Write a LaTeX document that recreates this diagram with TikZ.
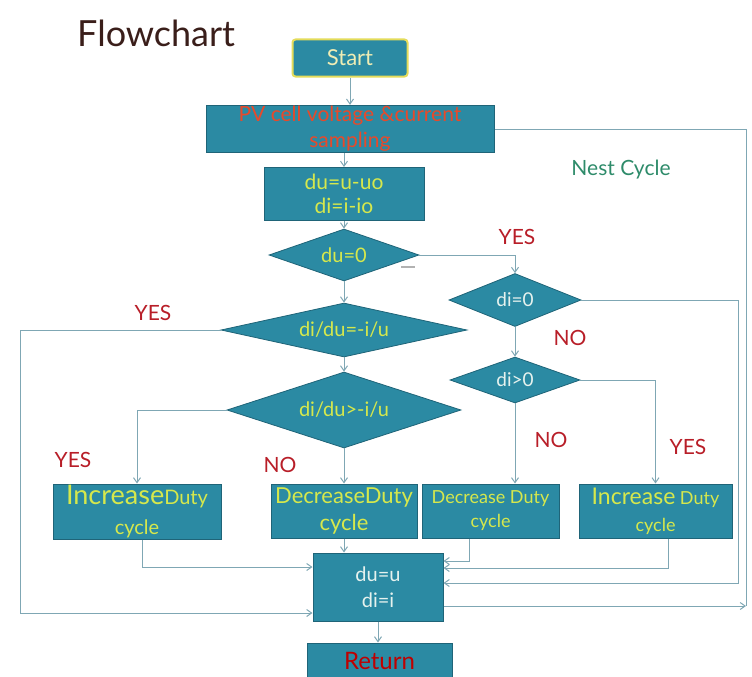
\documentclass[tikz,border=0pt]{standalone}
\usepackage{fontspec}
\setmainfont{Lato}
\usetikzlibrary{shapes.geometric,arrows.meta}
\definecolor{boxfill}{HTML}{2B8AA3}
\definecolor{boxline}{HTML}{1F6478}
\definecolor{txtyel}{HTML}{D6E84C}
\definecolor{txtlight}{HTML}{E6F2EE}
\definecolor{txtstart}{HTML}{F0EDB4}
\definecolor{lblred}{HTML}{B81E28}
\definecolor{pvred}{HTML}{E8492A}
\definecolor{wire}{HTML}{7FA7B4}
\definecolor{titlebrown}{HTML}{3A1E1A}
\definecolor{nestgreen}{HTML}{2E8B6A}
\definecolor{startedge}{HTML}{E4DC5A}
\newcommand{\fsz}[2]{\fontsize{#1}{#2}\selectfont}
\tikzset{
  box/.style={rectangle, fill=boxfill, draw=boxline, line width=1pt, inner sep=1pt, align=center, text=txtyel, font=\fsz{21}{24}},
  dia/.style={diamond, fill=boxfill, draw=boxline, line width=0.8pt, inner sep=0pt, align=center, text=txtyel, font=\fsz{20}{24}},
  lbl/.style={text=lblred, font=\fsz{21}{24}},
  wireline/.style={draw=wire, line width=1pt},
  arr/.style={wireline, -{Straight Barb[length=5pt,width=7pt]}},
}
\begin{document}
\begin{tikzpicture}[x=1pt,y=-1pt]
\useasboundingbox (0,0) rectangle (752,677);
% title
\node[anchor=west, text=titlebrown, font=\fsz{36}{40}, inner sep=0pt] (title) at (77,33) {Flowchart};
% boxes
\node[box, rounded corners=3pt, draw=startedge, line width=2pt, minimum width=115pt, minimum height=37pt, text=txtstart, font=\fsz{22}{24}] (start) at (350,58) {Start};
\node[box, minimum width=288pt, minimum height=47pt, text=pvred, font=\fsz{21}{26}] (pv) at (350,129) {PV cell voltage \&current\\sampling};
\node[box, minimum width=160pt, minimum height=53pt, font=\fsz{21}{24}] (duuo) at (344,194) {du=u-uo\\di=i-io};
\node[dia, aspect=2.9, minimum width=150pt, minimum height=52pt] (du0) at (344,255) {du=0};
\node[dia, aspect=4.5, minimum width=246pt, minimum height=54pt] (dieq) at (344,330) {di/du=-i/u};
\node[dia, aspect=3.1, minimum width=234pt, minimum height=76pt] (digt) at (344,410) {di/du>-i/u};
\node[dia, aspect=2.5, minimum width=132pt, minimum height=53pt, text=txtlight, font=\fsz{19}{22}] (di0) at (515,300) {di=0};
\node[dia, aspect=2.8, minimum width=130pt, minimum height=46pt, text=txtlight, font=\fsz{19}{22}] (dipos) at (515,380) {di>0};
\node[box, minimum width=168pt, minimum height=55pt, font=\fsz{20}{30}] (inc1) at (137,511.5) {{\fsz{27}{30}Increase}{\fsz{20}{30}Duty}\\cycle};
\node[box, minimum width=146pt, minimum height=54pt, font=\fsz{22}{27}] (dec2) at (344,511) {DecreaseDuty\\cycle};
\node[box, minimum width=137pt, minimum height=54pt, font=\fsz{18}{24}] (dec3) at (490.5,511) {Decrease Duty\\cycle};
\node[box, minimum width=153pt, minimum height=54pt, font=\fsz{18}{27}] (inc4) at (655.5,511) {{\fsz{23}{27}Increase} {\fsz{18}{27}Duty}\\cycle};
\node[box, minimum width=130pt, minimum height=68pt, text=txtlight, font=\fsz{20}{26}] (upd) at (378,587) {du=u\\di=i};
\node[box, minimum width=145pt, minimum height=36pt, text=red!75!black, font=\fsz{24}{26}] (ret) at (379.5,661) {Return};
% labels
\node[lbl] (y1) at (517,237) {YES};
\node[lbl] (y2) at (153,313) {YES};
\node[lbl] (n1) at (570,338) {NO};
\node[lbl] (y3) at (73,460) {YES};
\node[lbl] (n2) at (280,465) {NO};
\node[lbl] (n3) at (551,440) {NO};
\node[lbl] (y4) at (688,447) {YES};
\node[text=nestgreen, font=\fsz{21}{24}] (nest) at (621,170) {Nest Cycle};
% coordinates
\coordinate (rloop) at (746,129);
\coordinate (lloop) at (20,330);
\coordinate (tickA) at (401,267);
\coordinate (tickB) at (415,267);
% connectors
\draw[arr] (start.south) -- (start.south |- pv.north);
\draw[arr] (duuo.north |- pv.south) -- (duuo.north);
\draw[arr] (duuo.south) -- (du0.north);
\draw[arr] (du0.east) -- (di0.north |- du0.east) -- (di0.north);
\draw[arr] (du0.south) -- (dieq.north);
\draw[arr] (dieq.south) -- (digt.north);
\draw[arr] (dieq.west) -- (lloop) -- (lloop |- 0,613) -- (upd.west |- 0,613);
\draw[arr] (digt.west) -- (inc1.north |- digt.west) -- (inc1.north);
\draw[arr] (digt.south) -- (dec2.north);
\draw[arr] (inc1.south -| 142,0) -- (142,567) -- (upd.west |- 0,567);
\draw[arr] (dec2.south) -- (dec2.south |- upd.north);
\draw[arr] (di0.east) -- (738,0 |- di0.east) -- (738,583) -- (upd.east |- 0,583);
\draw[arr] (di0.south) -- (dipos.north);
\draw[arr] (dipos.east) -- (inc4.north |- dipos.east) -- (inc4.north);
\draw[arr] (dipos.south) -- (dipos.south |- dec3.north);
\draw[arr] (dec3.south -| 469,0) -- (469,561) -- (upd.east |- 0,561);
\draw[arr] (inc4.south -| 668,0) -- (668,568) -- (upd.east |- 0,568);
\draw[wireline] (pv.east) -- (rloop) -- (rloop |- 0,606);
\draw[arr] (upd.east |- 0,606) -- (rloop |- 0,606);
\draw[arr] (upd.south) -- (upd.south |- ret.north);
\draw[wireline, line width=1.5pt, draw=gray!60] (tickA) -- (tickB);
\end{tikzpicture}
\end{document}
